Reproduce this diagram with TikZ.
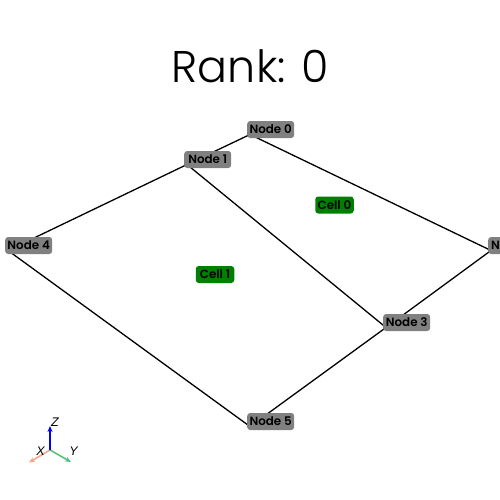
\documentclass[tikz,border=0pt]{standalone}
\usepackage{fontspec}
\setmainfont{Poppins}
\newfontfamily\titlefont{Poppins}[UprightFont=* Light]
\newfontfamily\labelfont{Poppins}[UprightFont=* SemiBold]
\newfontfamily\axisfont{Liberation Sans}
\usetikzlibrary{backgrounds,arrows.meta}
\definecolor{nodegray}{RGB}{128,128,128}
\definecolor{cellgreen}{RGB}{0,128,0}
\definecolor{axisx}{RGB}{244,164,130}
\definecolor{axisy}{RGB}{80,190,125}
\tikzset{
 x=1pt,y=-1pt,
 meshnode/.style={anchor=west,fill=nodegray,rounded corners=3pt,inner xsep=2pt,inner ysep=0pt,font=\labelfont\fontsize{11.9}{12}\selectfont,text=black,minimum height=17pt,minimum width=47pt},
 cellnode/.style={fill=cellgreen,rounded corners=3pt,inner xsep=2pt,inner ysep=0pt,font=\labelfont\fontsize{11.9}{12}\selectfont,text=black,minimum height=17pt,minimum width=38.5pt},
 edge/.style={draw=black,line width=1.3pt},
 axis/.style={line width=1.5pt,-{Stealth[length=6pt,width=5pt]}},
 axislabel/.style={font=\axisfont\fontsize{12.5}{13}\itshape\selectfont,inner sep=0pt}
}
\begin{document}
\begin{tikzpicture}
\useasboundingbox (0,0) rectangle (500,500);
\clip (0,0) rectangle (500,500);
\node[font=\titlefont\fontsize{44.4}{50}\selectfont,inner sep=0pt] (title) at (250.5,66) {Rank: 0};
\node[meshnode] (n0) at (247,129.5) {Node 0};
\node[meshnode] (n1) at (184,159.5) {Node 1};
\node[meshnode] (n2) at (488,245.5) {Node 2};
\node[meshnode] (n3) at (383,322.5) {Node 3};
\node[meshnode] (n4) at (5,245.5) {Node 4};
\node[meshnode] (n5) at (247,421.5) {Node 5};
\node[cellnode] (c0) at (334.5,205) {Cell 0};
\node[cellnode] (c1) at (215,274.5) {Cell 1};
\foreach \n in {n0,n1,n2,n3,n4,n5} \coordinate (\n v) at ([shift={(3,5)}]\n.west);
\begin{scope}[on background layer]
\draw[edge] (n0v) -- (n1v) -- (n4v) -- (n5v) -- (n3v) -- (n2v) -- (n0v);
\draw[edge] (n1v) -- (n3v);
\end{scope}
\coordinate (o) at (50,450);
\coordinate (xe) at (29,462.5);
\coordinate (ye) at (71,462);
\coordinate (ze) at (50,426);
\draw[axis,axisx] (o) -- (xe);
\draw[axis,axisy] (o) -- (ye);
\draw[axis,blue] (o) -- (ze);
\node[axislabel] (lx) at (40.5,451) {X};
\node[axislabel] (ly) at (73.5,451) {Y};
\node[axislabel] (lz) at (55,422) {Z};
\end{tikzpicture}
\end{document}
